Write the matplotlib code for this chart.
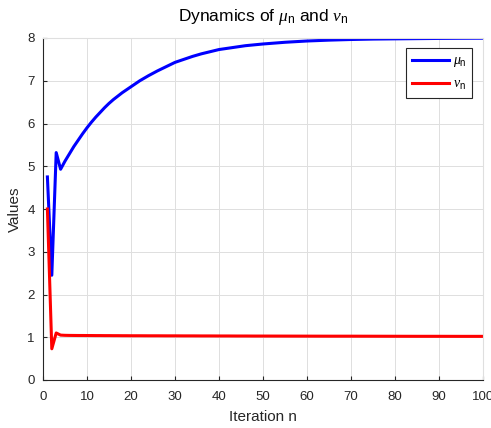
import numpy as np
import matplotlib
matplotlib.use("Agg")
import matplotlib.pyplot as plt

# Valores (iteración n, mu_n y nu_n)
n_vals = [1, 2, 3, 4, 5, 6, 7, 8, 9, 10, 11, 12, 13, 14, 15, 16, 17, 18, 19,
          20, 22, 24, 26, 28, 30, 32, 34, 36, 38, 40, 42, 44, 46, 48, 50, 55,
          60, 65, 70, 75, 80, 85, 90, 95, 100]
mu_vals = [4.75, 2.45, 5.32, 4.93, 5.12, 5.29, 5.46, 5.61, 5.76, 5.90, 6.03,
           6.15, 6.26, 6.37, 6.47, 6.56, 6.64, 6.72, 6.79, 6.86, 7.00, 7.12,
           7.23, 7.33, 7.43, 7.50, 7.57, 7.63, 7.68, 7.73, 7.76, 7.79, 7.82,
           7.84, 7.86, 7.90, 7.93, 7.95, 7.965, 7.975, 7.98, 7.985, 7.99,
           7.993, 7.995]
nu_vals = [4.00, 0.73, 1.10, 1.05, 1.045, 1.043, 1.042, 1.041, 1.041, 1.040,
           1.040, 1.039, 1.039, 1.038, 1.038, 1.037, 1.037, 1.036, 1.036,
           1.035, 1.035, 1.034, 1.034, 1.033, 1.033, 1.032, 1.032, 1.031,
           1.031, 1.030, 1.030, 1.029, 1.029, 1.028, 1.028, 1.027, 1.026,
           1.025, 1.025, 1.024, 1.023, 1.022, 1.022, 1.021, 1.021]

x_ticks = np.arange(0, 101, 10)
y_ticks = np.arange(0, 9, 1)

plt.rcParams["font.family"] = ["Liberation Sans", "DejaVu Sans"]
plt.rcParams["mathtext.fontset"] = "custom"
plt.rcParams["mathtext.rm"] = "Liberation Sans"
plt.rcParams["mathtext.it"] = "Liberation Serif:italic"

fig = plt.figure(figsize=(4.91, 4.28), dpi=100)
ax = fig.add_axes([43 / 491, 1 - 380 / 428, 440 / 491, 342 / 428])

ax.plot(n_vals, mu_vals, color=(0, 0, 1), lw=2.2, label=r"$\mu_{\rm n}$")
ax.plot(n_vals, nu_vals, color=(1, 0, 0), lw=2.2, label=r"$\nu_{\rm n}$")

ax.set_xlim(0, 100)
ax.set_ylim(0, 8)
ax.set_xticks(x_ticks)
ax.set_yticks(y_ticks)
ax.tick_params(direction="in", length=3, labelsize=9.5, colors="#262626",
               labelcolor="#262626", top=False, right=False)
ax.tick_params(axis="x", pad=8)
ax.tick_params(axis="y", pad=6)
ax.grid(True, color="#dfdfdf", lw=0.7)
ax.set_axisbelow(True)
for s in ["top", "right"]:
    ax.spines[s].set_color("#dfdfdf")
for s in ["left", "bottom"]:
    ax.spines[s].set_color("#262626")

ax.set_xlabel("Iteration n", fontsize=11, color="#262626", labelpad=5)
ax.set_ylabel("Values", fontsize=11, color="#262626", labelpad=4)
ax.set_title(r"Dynamics of $\mu_{\rm n}$ and $\nu_{\rm n}$", fontsize=12.5,
             color="black", pad=12)

leg = ax.legend(loc="upper right", bbox_to_anchor=(0.975, 0.971), fontsize=10,
                fancybox=False, framealpha=1, edgecolor="#262626",
                handlelength=2.7, borderpad=0.4, labelspacing=0.55,
                handletextpad=0.25, borderaxespad=0)
leg.get_frame().set_linewidth(0.8)

plt.savefig("out.png", dpi=100)
